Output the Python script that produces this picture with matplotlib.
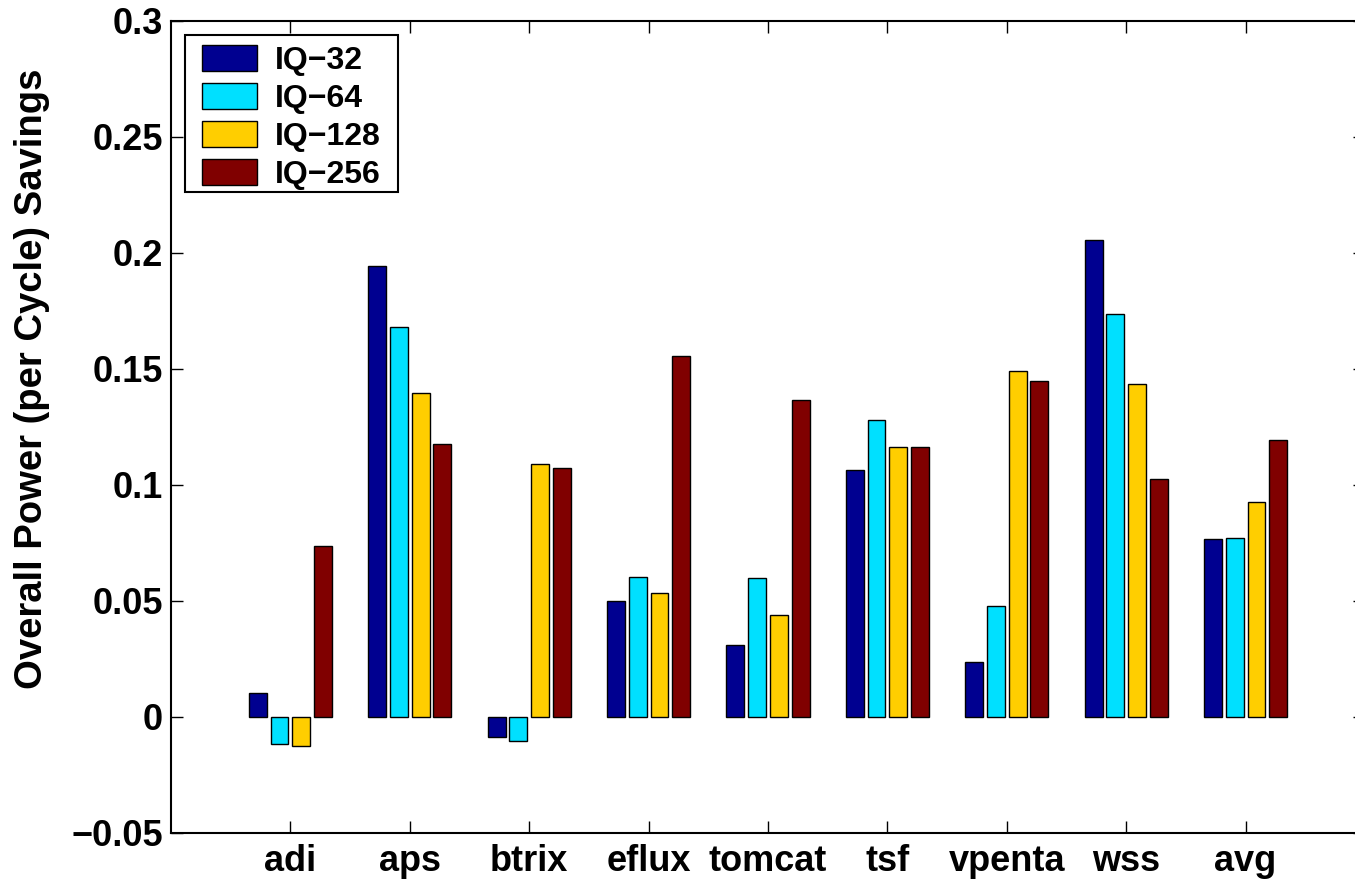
import numpy as np
import matplotlib
matplotlib.use("Agg")
import matplotlib.pyplot as plt
from matplotlib.patches import Rectangle

# benchmarks and IQ sizes
benchmarks = ['adi', 'aps', 'btrix', 'eflux', 'tomcat', 'tsf', 'vpenta', 'wss', 'avg']
series_names = ['IQ\u221232', 'IQ\u221264', 'IQ\u2212128', 'IQ\u2212256']

# overall power (per cycle) savings
iq32 = [0.0104, 0.1946, -0.0086, 0.0500, 0.0311, 0.1066, 0.0237, 0.2054, 0.0768]
iq64 = [-0.0117, 0.1679, -0.0104, 0.0604, 0.0600, 0.1282, 0.0479, 0.1735, 0.0770]
iq128 = [-0.0125, 0.1398, 0.1090, 0.0535, 0.0440, 0.1165, 0.1493, 0.1437, 0.0928]
iq256 = [0.0738, 0.1175, 0.1075, 0.1558, 0.1368, 0.1165, 0.1450, 0.1027, 0.1195]

yticks = [-0.05, 0, 0.05, 0.1, 0.15, 0.2, 0.25, 0.3]
ytick_labels = ['\u22120.05', '0', '0.05', '0.1', '0.15', '0.2', '0.25', '0.3']

colors = ['#000090', '#00E0FF', '#FFCE00', '#800000']

plt.rcParams['font.family'] = ['Liberation Sans', 'DejaVu Sans']
plt.rcParams['font.weight'] = 'bold'

fig = plt.figure(figsize=(13.55, 8.85), dpi=100)
# right edge of the box sits just outside the picture, like the original
ax = fig.add_axes([171 / 1355, 1 - 833 / 885, 1194 / 1355, 812 / 885])

x = np.arange(1, len(benchmarks) + 1)
width = 0.15
step = 0.182
for i, (vals, name) in enumerate(zip([iq32, iq64, iq128, iq256], series_names)):
    ax.bar(x + (i - 1.5) * step, vals, width, color=colors[i], edgecolor='black',
           linewidth=1.0, label=name)

ax.set_xlim(0, 10)
ax.set_ylim(-0.05, 0.3)
ax.set_xticks(x)
ax.set_xticklabels(benchmarks, fontsize=26, fontweight='bold')
ax.set_yticks(yticks)
ax.set_yticklabels(ytick_labels, fontsize=26, fontweight='bold')
ax.tick_params(direction='in', length=8.5, width=1, top=True, right=True)
ax.tick_params(axis='y', pad=6)
ax.tick_params(axis='x', pad=8)
for s in ax.spines.values():
    s.set_linewidth(1.5)

ax.set_ylabel('Overall Power (per Cycle) Savings', fontsize=27.5, fontweight='bold')
ax.yaxis.set_label_coords(-0.101, 0.56)

# legend box drawn separately so its padding matches the original
frame = Rectangle((0.0117, 0.7894), 0.1784, 0.1933, transform=ax.transAxes,
                  facecolor='white', edgecolor='black', linewidth=1.5, zorder=5)
ax.add_patch(frame)
leg = ax.legend(loc='upper left', bbox_to_anchor=(0.026, 0.971), frameon=False,
                fontsize=23, handlelength=1.72, handleheight=0.88,
                labelspacing=0.22, borderpad=0, handletextpad=0.56, borderaxespad=0)
leg.set_zorder(6)
for t in leg.get_texts():
    t.set_fontweight('bold')
for h in leg.legend_handles:
    h.set_linewidth(1.0)

fig.savefig('out.png', dpi=100)
